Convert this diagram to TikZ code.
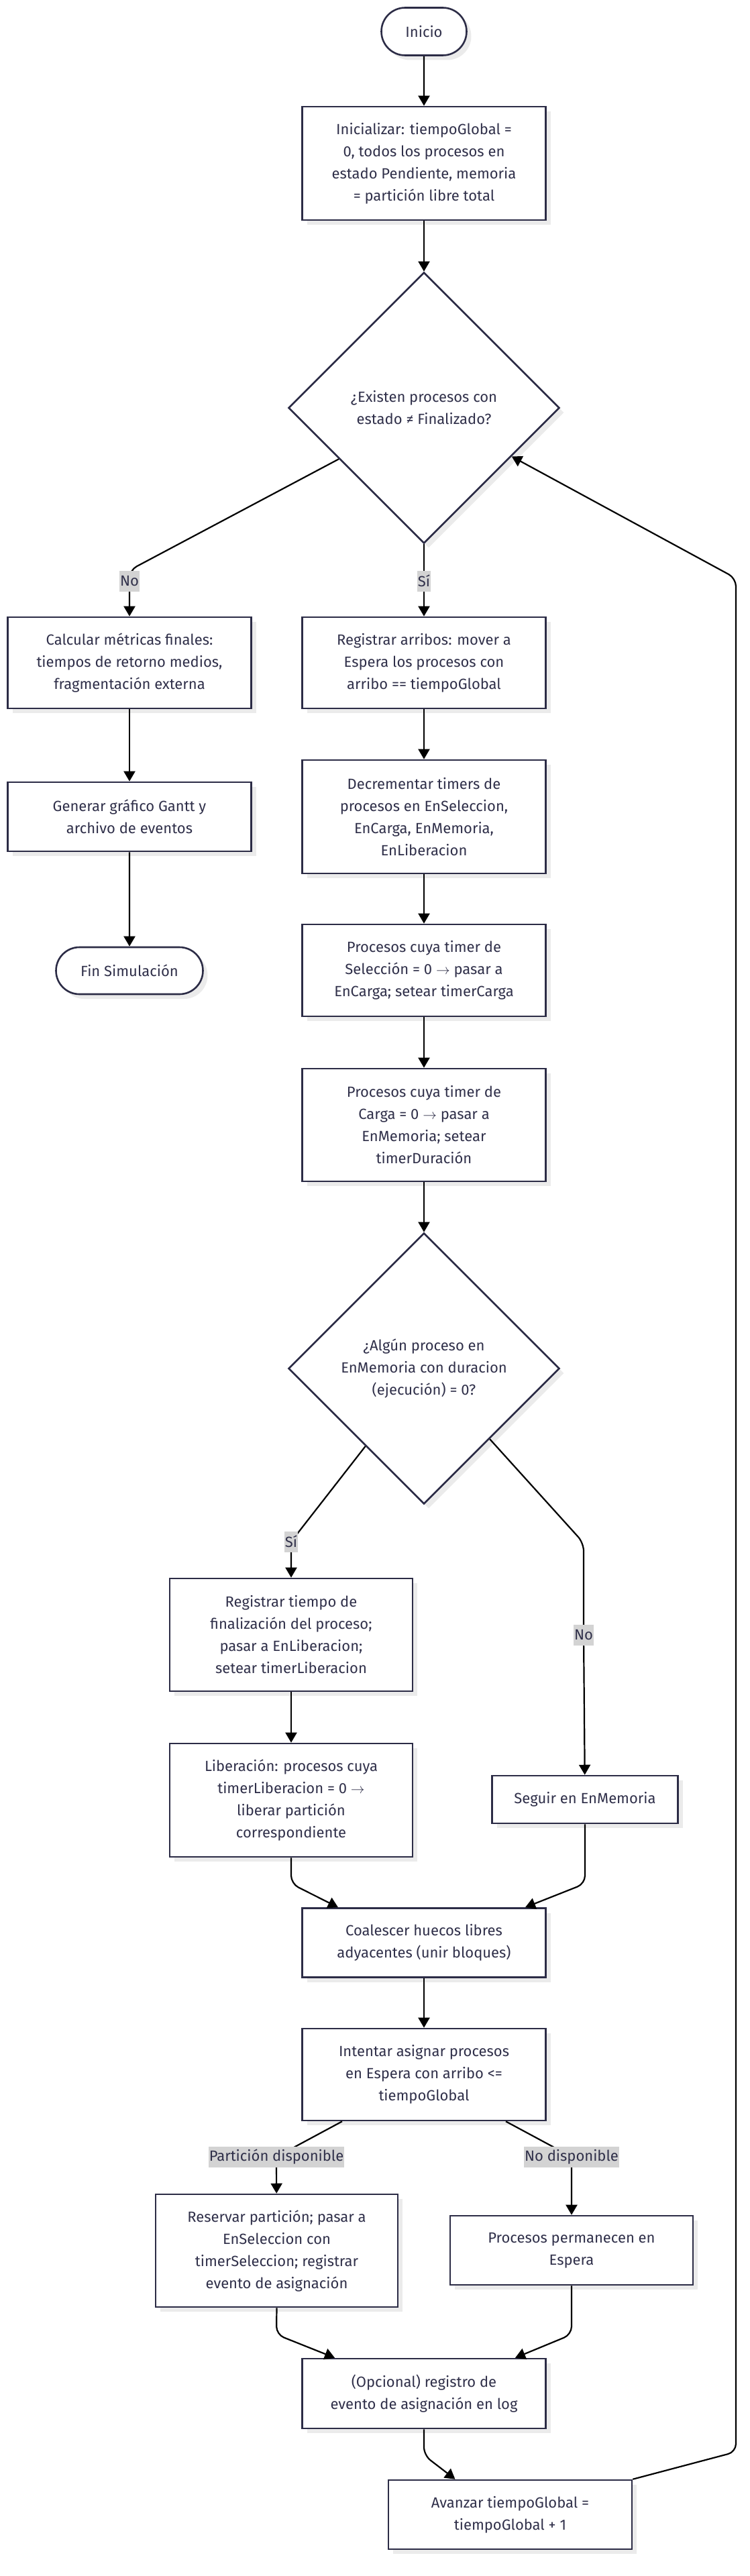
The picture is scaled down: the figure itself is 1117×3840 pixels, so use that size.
\documentclass[tikz,border=0pt]{standalone}
\usepackage{fontspec}
\setmainfont{Fira Sans}
\usepackage{tikz}
\usetikzlibrary{arrows.meta}
\usetikzlibrary{shapes.geometric}
\usetikzlibrary{shapes.misc}
\usetikzlibrary{shadows}
\usetikzlibrary{calc}

\definecolor{boxline}{HTML}{2C2C46}
\definecolor{boxtext}{HTML}{30304A}
\definecolor{lblfill}{HTML}{D3D3D3}
\definecolor{shadowgray}{HTML}{EBEBEB}

\newcommand{\thinto}{$\rightarrow$}

\begin{document}
\begin{tikzpicture}[x=1pt,y=-1pt,
	base/.style={draw=boxline,line width=2.6pt,fill=white,text=boxtext,
		font=\fontsize{22}{33}\selectfont,align=center,inner sep=0pt,
		drop shadow={shadow xshift=7pt,shadow yshift=-7pt,fill=shadowgray,opacity=1}},
	proc/.style={base,rectangle,minimum width=363pt},
	term/.style={base,rounded rectangle},
	decide/.style={base,diamond,aspect=1,minimum width=404pt,minimum height=404pt},
	flow/.style={draw=black,line width=2.2pt,rounded corners=12pt,-{Triangle[length=15pt,width=17pt]}},
	lbl/.style={sharp corners,fill=lblfill,text=boxtext,font=\fontsize{22}{33}\selectfont,
		inner xsep=1pt,inner ysep=0pt,minimum height=31pt}
	]
\useasboundingbox (0,0) rectangle (1117,3840);

\node[term,minimum width=127pt,minimum height=71pt] (inicio) at (632,47) {Inicio};
\node[proc,minimum height=169pt] (init) at (632,243.5) {Inicializar: tiempoGlobal =\\0, todos los procesos en\\estado Pendiente, memoria\\= partición libre total};
\node[decide] (d1) at (632,608) {¿Existen procesos con\\estado ≠ Finalizado?};

\node[proc,minimum height=136pt] (calc) at (193,988) {Calcular métricas finales:\\tiempos de retorno medios,\\fragmentación externa};
\node[proc,minimum height=103pt] (gen) at (193,1217.5) {Generar gráfico Gantt y\\archivo de eventos};
\node[term,minimum width=219pt,minimum height=70pt] (fin) at (193,1447) {Fin Simulación};

\node[proc,minimum height=136pt] (reg) at (632,988) {Registrar arribos: mover a\\Espera los procesos con\\arribo == tiempoGlobal};
\node[proc,minimum height=169pt] (dec) at (632,1217.5) {Decrementar timers de\\procesos en EnSeleccion,\\EnCarga, EnMemoria,\\EnLiberacion};
\node[proc,minimum height=137pt] (sel) at (632,1446.5) {Procesos cuya timer de\\Selección = 0 \thinto{} pasar a\\EnCarga; setear timerCarga};
\node[proc,minimum height=168pt] (car) at (632,1677) {Procesos cuya timer de\\Carga = 0 \thinto{} pasar a\\EnMemoria; setear\\timerDuración};
\node[decide] (d2) at (632,2040) {¿Algún proceso en\\EnMemoria con duracion\\(ejecución) = 0?};

\node[proc,minimum width=362pt,minimum height=168pt] (regt) at (434,2437) {Registrar tiempo de\\finalización del proceso;\\pasar a EnLiberacion;\\setear timerLiberacion};
\node[proc,minimum width=362pt,minimum height=169pt] (lib) at (434,2683.5) {Liberación: procesos cuya\\timerLiberacion = 0 \thinto\\liberar partición\\correspondiente};
\node[proc,minimum width=277pt,minimum height=71pt] (seg) at (872,2682.5) {Seguir en EnMemoria};

\node[proc,minimum height=103pt] (coal) at (632,2896) {Coalescer huecos libres\\adyacentes (unir bloques)};
\node[proc,minimum height=137pt] (int) at (632,3092.5) {Intentar asignar procesos\\en Espera con arribo <=\\tiempoGlobal};
\node[proc,minimum width=361pt,minimum height=168pt] (res) at (412.5,3355) {Reservar partición; pasar a\\EnSeleccion con\\timerSeleccion; registrar\\evento de asignación};
\node[proc,minimum width=362pt,minimum height=103pt] (perm) at (852,3354.5) {Procesos permanecen en\\Espera};
\node[proc,minimum height=104pt] (opc) at (632,3568) {(Opcional) registro de\\evento de asignación en log};
\node[proc,minimum height=103pt] (avz) at (760.5,3748.5) {Avanzar tiempoGlobal =\\tiempoGlobal + 1};

\draw[flow] (inicio) -- (init);
\draw[flow] (init) -- (d1);
\draw[flow] (d1.211) -- (193,850) -- (193,866) node[lbl] {No} -- (calc);
\draw[flow] (d1) -- (632,866) node[lbl] {Sí} -- (reg);

\draw[flow] (calc) -- (gen);
\draw[flow] (gen) -- (fin);

\draw[flow] (reg) -- (dec);
\draw[flow] (dec) -- (sel);
\draw[flow] (sel) -- (car);
\draw[flow] (car) -- (d2);

\draw[flow] (d2.233) -- (434,2298) node[lbl] {Sí} -- (regt);
\draw[flow] (d2.313) -- (870,2300) -- (870,2437) node[lbl] {No} -- (seg);
\draw[flow] (regt) -- (lib);
\draw[flow] (lib.south) -- (434,2808) -- ($(coal.north)+(-128,0)$);
\draw[flow] (seg.south) -- (872,2808) -- ($(coal.north)+(151,0)$);

\draw[flow] (coal) -- (int);
\draw[flow] ($(int.south)+(-122,0)$) -- (412,3215) node[lbl] {Partición disponible} -- (res);
\draw[flow] ($(int.south)+(122,0)$) -- (852,3215) node[lbl] {No disponible} -- (perm);
\draw[flow] (res.south) -- (412,3480) -- ($(opc.north)+(-133,0)$);
\draw[flow] (perm.south) -- (852,3480) -- ($(opc.north)+(136,0)$);
\draw[flow] (opc.south) -- (632,3660) -- ($(avz.north)+(-82,0)$);

%loop back
\draw[flow] (avz.north east) -- (1097,3655) -- (1097,862) -- (d1.331);

\end{tikzpicture}
\end{document}
